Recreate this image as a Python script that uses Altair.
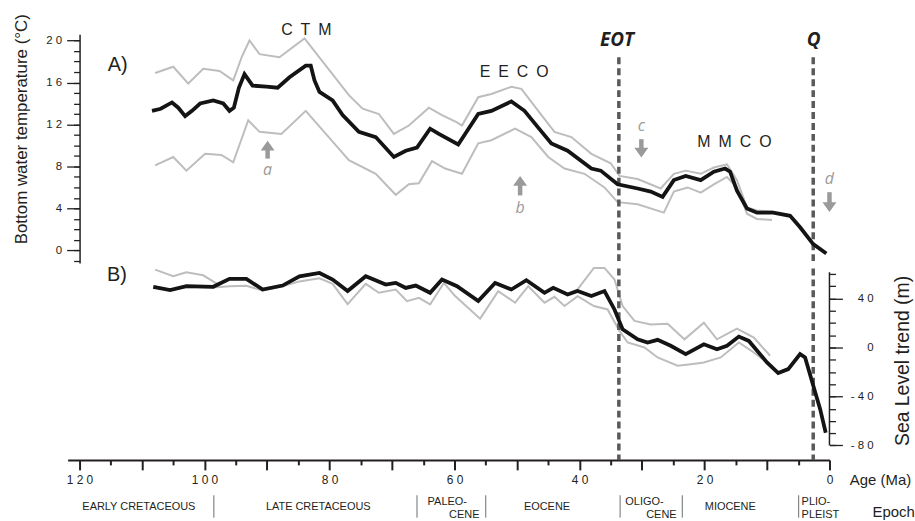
import altair as alt
import pandas as pd

# ---------------- data ----------------
# Panel A: bottom water temperature (deg C) vs age (Ma)
TEMP_AGE = [108.4, 107.0, 105.2, 104.2, 103.1, 102.0, 100.7, 98.6, 97.0, 96.0, 95.3, 94.5, 93.6, 92.3,
            90.1, 88.3, 86.4, 83.8, 83.0, 82.4, 81.6, 79.5, 77.9, 75.3, 72.6, 69.7, 67.8, 66.0, 63.9,
            62.5, 59.4, 56.2, 54.1, 50.9, 48.8, 46.6, 44.5, 41.9, 38.1, 36.6, 33.9, 30.7, 28.6, 26.7,
            24.9, 23.0, 20.6, 18.5, 16.7, 15.9, 14.8, 13.2, 11.6, 9.0, 6.3, 4.7, 2.6, 0.5]
TEMP_MID = [13.3, 13.5, 14.1, 13.6, 12.8, 13.3, 14.0, 14.3, 14.0, 13.3, 13.6, 15.5, 16.8, 15.7,
            15.6, 15.5, 16.5, 17.6, 17.6, 16.2, 15.1, 14.3, 12.9, 11.3, 10.8, 8.9, 9.5, 9.8, 11.6,
            11.1, 10.1, 13.0, 13.3, 14.2, 13.3, 11.7, 10.2, 9.5, 7.8, 7.6, 6.3, 5.9, 5.6, 5.1,
            6.7, 7.1, 6.7, 7.5, 7.8, 7.5, 5.7, 4.0, 3.6, 3.6, 3.3, 2.2, 0.6, -0.3]
TEMP_UP_AGE = [107.9, 105.0, 102.6, 100.2, 97.6, 95.4, 94.0, 92.8, 91.2, 88.0, 84.0, 76.9, 74.7, 72.1,
               69.7, 67.3, 64.1, 62.0, 59.6, 58.8, 56.2, 54.1, 50.9, 49.3, 46.6, 44.0, 41.3, 38.1,
               35.0, 33.6, 30.7, 27.0, 24.9, 23.0, 20.6, 18.5, 16.4, 14.8, 13.2, 11.6, 9.0]
TEMP_UP = [16.9, 17.5, 15.9, 17.3, 17.1, 16.2, 18.5, 20.0, 18.7, 18.4, 20.2, 14.8, 13.5, 13.0,
           11.1, 11.9, 13.6, 12.9, 12.2, 11.9, 14.6, 14.9, 15.6, 15.4, 13.3, 11.3, 10.8, 9.2,
           8.3, 7.1, 6.8, 5.9, 7.3, 7.6, 7.3, 7.9, 8.2, 6.7, 4.1, 3.8, 3.7]
TEMP_LO_AGE = [107.9, 105.0, 102.9, 99.9, 97.3, 95.4, 93.0, 91.2, 87.7, 83.8, 76.9, 72.6, 69.4, 67.3,
               65.7, 63.6, 61.5, 58.8, 56.2, 54.1, 50.3, 47.7, 45.0, 42.4, 39.2, 36.0, 33.9, 30.7,
               26.5, 24.9, 22.7, 20.6, 18.5, 16.4, 14.8, 13.2, 11.6, 9.2]
TEMP_LO = [8.1, 8.9, 7.6, 9.2, 9.1, 8.4, 12.4, 11.3, 11.1, 13.3, 8.6, 7.3, 5.3, 6.3,
           6.4, 8.5, 7.8, 7.3, 10.2, 10.5, 11.6, 10.8, 8.9, 7.8, 7.3, 6.0, 4.6, 4.4,
           3.6, 5.6, 6.0, 5.5, 6.3, 7.0, 6.0, 3.5, 3.0, 2.9]

# Panel B: sea level trend (m) vs age (Ma)
SL_AGE = [108.2, 105.5, 102.9, 98.6, 96.0, 93.3, 90.7, 87.5, 84.8, 81.6, 79.5, 77.1, 74.2, 71.0,
          69.4, 67.8, 66.2, 63.9, 62.0, 59.6, 56.2, 53.5, 50.9, 48.5, 45.6, 44.2, 41.9, 40.3,
          38.1, 36.0, 34.4, 33.1, 30.7, 29.1, 27.5, 25.4, 23.0, 20.1, 18.0, 16.4, 14.5, 12.9,
          10.0, 8.2, 6.6, 4.7, 3.9, 2.6, 1.5, 0.6]
SL_MID = [49.6, 46.9, 50.1, 49.6, 56.1, 56.1, 47.4, 50.6, 58.2, 60.9, 55.5, 46.1, 58.2, 51.4,
          52.8, 48.7, 50.6, 44.7, 55.5, 50.1, 37.9, 52.8, 47.4, 55.0, 44.7, 48.7, 43.3, 46.1,
          42.0, 46.1, 31.1, 14.9, 6.7, 4.1, 6.3, 1.4, -5.4, 2.7, -1.4, 1.4, 8.9, 5.4,
          -12.2, -20.9, -17.6, -5.4, -8.1, -31.1, -50.1, -69.6]
SL_UP_AGE = [107.9, 105.0, 102.9, 100.2, 98.0, 96.0, 93.3, 90.7, 87.5, 84.8, 81.6, 79.5, 77.1, 74.2,
             71.0, 69.4, 67.8, 66.2, 63.9, 62.0, 59.6, 56.2, 53.5, 50.9, 48.5, 45.6, 44.2, 41.9,
             40.3, 37.7, 36.0, 34.4, 33.1, 31.2, 28.6, 25.9, 23.2, 20.1, 18.0, 14.8, 12.1, 9.5]
SL_UP = [63.6, 58.2, 61.5, 59.0, 52.0, 56.1, 56.1, 48.0, 51.0, 58.5, 61.5, 56.0, 47.0, 58.5,
         52.0, 53.5, 49.5, 51.0, 45.5, 56.0, 51.0, 39.0, 53.5, 48.0, 55.5, 45.5, 49.5, 44.0,
         47.5, 65.0, 65.0, 55.5, 33.9, 21.7, 18.9, 19.5, 6.7, 20.3, 6.7, 15.4, 8.1, -6.7]
SL_LO_AGE = [108.0, 105.5, 102.9, 98.6, 96.0, 93.3, 90.7, 87.5, 84.8, 81.6, 79.5, 77.1, 74.2, 72.1,
             69.4, 67.6, 65.7, 63.9, 61.7, 59.9, 55.9, 53.0, 50.3, 48.2, 45.6, 44.0, 42.4, 40.3,
             37.7, 35.5, 33.6, 32.3, 29.6, 27.5, 24.3, 22.2, 20.1, 17.4, 14.5, 12.1, 10.0]
SL_LO = [50.0, 46.5, 49.5, 49.0, 50.0, 50.5, 46.5, 50.0, 54.0, 56.5, 52.0, 35.5, 52.0, 44.7,
         47.4, 37.9, 40.6, 35.2, 52.8, 42.0, 23.6, 46.1, 36.6, 50.1, 36.6, 41.4, 33.9, 42.0,
         33.9, 31.1, 13.6, 4.1, 0.0, -8.1, -14.9, -13.6, -12.2, -8.1, 4.1, -4.1, -12.2]

# events (dashed verticals)
EVENT_NAMES = ["EOT", "Q"]
EVENT_AGES = [33.7, 2.6]
EVENT_LABEL_AGES = [34.0, 2.55]

# climate annotations in panel A
CLIM_NAMES = ["C\u2002T\u2002M", "E\u2002E\u2002C\u2002O", "M\u2002M\u2002C\u2002O"]
CLIM_AGES = [83.7, 50.45, 15.2]
CLIM_TEMPS = [20.5, 16.55, 9.82]

# arrows (a, b up; c, d down)
ARROW_NAMES = ["a", "b", "c", "d"]
ARROW_AGES = [89.9, 49.5, 30.1, 0.0]
ARROW_DIR = ["up", "up", "down", "down"]
ARROW_HEAD = [9.98, 6.62, 9.32, 4.13]
ARROW_TAIL = [8.75, 5.24, 10.6, 5.55]
ARROW_LABEL = [7.23, 3.54, 11.4, 6.35]

# epochs
EPOCH_BOUNDS = [98.5, 66.0, 55.0, 33.5, 23.55, 4.93]
EPOCH_SINGLE = ["EARLY CRETACEOUS", "LATE CRETACEOUS", "EOCENE", "MIOCENE"]
EPOCH_SINGLE_AGES = [110.5, 81.8, 45.2, 15.87]
EPOCH_LINE1 = ["PALEO-", "OLIGO-", "PLIO-"]
EPOCH_LINE1_AGES = [64.3, 32.67, 4.46]
EPOCH_LINE2_R = ["CENE", "CENE"]
EPOCH_LINE2_R_AGES = [56.0, 24.46]
EPOCH_LINE2_L = ["PLEIST"]
EPOCH_LINE2_L_AGES = [4.46]

# axis ticks
X_MAJOR = list(range(0, 121, 10))
X_MINOR = list(range(5, 120, 10))
T_MAJOR = [0, 4, 8, 12, 16, 20]
T_MINOR = list(range(-1, 21))
S_MAJOR = [-80, -40, 0, 40]
S_MINOR = list(range(-80, 61, 10))

# ---------------- styling ----------------
FONT = "Liberation Sans"
TXT = "#231f20"
BLACK = "#141414"
GRAY = "#bdbdbd"
DASH = "#58595b"
ARROW = "#9a9a9a"
W = 766
SPACED = "join(split(toString(datum.value), ''), ' ')"

xscale = alt.Scale(domain=[0, 121.9], reverse=True, nice=False, zero=False)
tscale = alt.Scale(domain=[-1.2, 20.6], nice=False, zero=False)
sscale = alt.Scale(domain=[-91.8, 65.8], nice=False, zero=False)
escale = alt.Scale(domain=[0, 2], nice=False, zero=False)


def X(field="age", axis=None):
    return alt.X(f"{field}:Q", scale=xscale, axis=axis)


def df_xy(ages, vals):
    return pd.DataFrame({"age": ages, "v": vals})


# ---------------- Panel A ----------------
left_major = alt.Axis(orient="left", values=T_MAJOR, tickSize=13, tickWidth=1.3, tickColor=TXT,
                      domainColor=TXT, domainWidth=1.5, labelExpr=SPACED, labelFont=FONT,
                      labelFontSize=11.5, labelColor=TXT, labelPadding=5, offset=-12, grid=False,
                      title="Bottom water temperature (°C)", titleFont=FONT, titleFontSize=17,
                      titleFontWeight="normal", titleColor=TXT, titleAngle=270, titleX=-53,
                      titleY=95, titleAlign="center", titleBaseline="alphabetic")
left_minor = alt.Axis(orient="left", values=T_MINOR, tickSize=6, tickWidth=1.3, tickColor=TXT,
                      domain=False, labels=False, title=None, offset=-12, grid=False)

YT = lambda axis=None, f="v": alt.Y(f"{f}:Q", scale=tscale, axis=axis)

t_up = alt.Chart(df_xy(TEMP_UP_AGE, TEMP_UP)).mark_line(color=GRAY, strokeWidth=2).encode(
    x=X(), y=YT(left_minor))
t_lo = alt.Chart(df_xy(TEMP_LO_AGE, TEMP_LO)).mark_line(color=GRAY, strokeWidth=2).encode(
    x=X(), y=YT())
t_mid = alt.Chart(df_xy(TEMP_AGE, TEMP_MID)).mark_line(color=BLACK, strokeWidth=3.8).encode(
    x=X(), y=YT(left_major))

ev_top = pd.DataFrame({"age": EVENT_AGES, "y0": [18.4, 18.4], "y1": [-1.0, -1.0]})
t_dash = alt.Chart(ev_top).mark_rule(color=DASH, strokeWidth=3.5, strokeDash=[7, 4]).encode(
    x=X(), y=YT(f="y0"), y2="y1:Q")

ev_lab = pd.DataFrame({"age": EVENT_LABEL_AGES, "v": [19.46, 19.46], "name": EVENT_NAMES})
t_evlab = alt.Chart(ev_lab).mark_text(font="Open Sans", fontSize=19, fontStyle="italic",
                                      fontWeight="bold", color=TXT, align="center",
                                      baseline="alphabetic").encode(x=X(), y=YT(), text="name:N")

clim = pd.DataFrame({"age": CLIM_AGES, "v": CLIM_TEMPS, "name": CLIM_NAMES})
t_clim = alt.Chart(clim).mark_text(font=FONT, fontSize=16, color=TXT, align="center",
                                   baseline="alphabetic").encode(x=X(), y=YT(), text="name:N")

pa = pd.DataFrame({"age": [115.5], "v": [17.09], "name": ["A)"]})
t_pa = alt.Chart(pa).mark_text(font=FONT, fontSize=20, color=TXT, align="left",
                               baseline="alphabetic").encode(x=X(), y=YT(), text="name:N")

arrows = pd.DataFrame({"age": ARROW_AGES, "head": ARROW_HEAD, "tail": ARROW_TAIL,
                       "lab": ARROW_LABEL, "name": ARROW_NAMES, "dir": ARROW_DIR})
t_shaft = alt.Chart(arrows).mark_rule(color=ARROW, strokeWidth=4.5).encode(
    x=X(), y=YT(f="head"), y2="tail:Q")
t_head_up = alt.Chart(arrows[arrows["dir"] == "up"]).mark_point(
    shape="M-1,0.7L0,-0.7L1,0.7Z", filled=True, size=196, color=ARROW, opacity=1).encode(
    x=X(), y=YT(f="head"))
t_head_dn = alt.Chart(arrows[arrows["dir"] == "down"]).mark_point(
    shape="M-1,-0.7L0,0.7L1,-0.7Z", filled=True, size=196, color=ARROW, opacity=1).encode(
    x=X(), y=YT(f="head"))
t_alab = alt.Chart(arrows).mark_text(font="Open Sans", fontSize=16, fontStyle="italic",
                                     color=ARROW, align="center", baseline="alphabetic").encode(
    x=X(), y=YT(f="lab"), text="name:N")

top = alt.layer(t_up, t_lo, t_dash, t_mid, t_evlab, t_clim, t_pa, t_shaft, t_head_up, t_head_dn,
                t_alab).resolve_axis(y="independent").properties(width=W, height=230)

# ---------------- Panel B ----------------
right_major = alt.Axis(orient="right", values=S_MAJOR, tickSize=13, tickWidth=1.3, tickColor=TXT,
                       domain=False, labelExpr=SPACED, labelFont=FONT, labelFontSize=11.5,
                       labelColor=TXT, labelAlign="right", labelPadding=31, grid=False,
                       title="Sea Level trend (m)", titleFont=FONT, titleFontSize=19.5,
                       titleFontWeight="normal", titleColor=TXT, titleAngle=270, titleX=79,
                       titleY=94, titleAlign="center", titleBaseline="alphabetic")
right_minor = alt.Axis(orient="right", values=S_MINOR, tickSize=6, tickWidth=1.3, tickColor=TXT,
                       domain=False, labels=False, title=None, grid=False)
x_major = alt.Axis(orient="bottom", values=X_MAJOR, tickSize=10, tickWidth=2, tickColor=TXT,
                   domainColor=TXT, domainWidth=2,
                   labelExpr="datum.value % 20 == 0 ? " + SPACED + " : ''",
                   labelFont=FONT, labelFontSize=12, labelColor=TXT, labelPadding=5,
                   labelFlush=False, labelOverlap=False, grid=False,
                   title="Age (Ma)", titleFont=FONT, titleFontSize=15, titleFontWeight="normal",
                   titleColor=TXT, titleX=786, titleY=25, titleAlign="left",
                   titleBaseline="alphabetic", titleAngle=0)
x_minor = alt.Axis(orient="bottom", values=X_MINOR, tickSize=5, tickWidth=2, tickColor=TXT,
                   domain=False, labels=False, title=None, grid=False)

YS = lambda axis=None, f="v": alt.Y(f"{f}:Q", scale=sscale, axis=axis)

s_lo = alt.Chart(df_xy(SL_LO_AGE, SL_LO)).mark_line(color=GRAY, strokeWidth=2).encode(
    x=X(axis=x_minor), y=YS(right_minor))
s_up = alt.Chart(df_xy(SL_UP_AGE, SL_UP)).mark_line(color=GRAY, strokeWidth=2).encode(
    x=X(), y=YS())
s_mid = alt.Chart(df_xy(SL_AGE, SL_MID)).mark_line(color=BLACK, strokeWidth=3.8).encode(
    x=X(axis=x_major), y=YS(right_major))

ev_bot = pd.DataFrame({"age": EVENT_AGES, "y0": [64.6, 64.6], "y1": [-91.8, -91.8]})
s_dash = alt.Chart(ev_bot).mark_rule(color=DASH, strokeWidth=3.5, strokeDash=[7, 4]).encode(
    x=X(), y=YS(f="y0"), y2="y1:Q")

s_axisline = alt.Chart(pd.DataFrame({"age": [0.0], "y0": [-80.0], "y1": [61.5]})).mark_rule(
    color=TXT, strokeWidth=1.5).encode(x=X(), y=YS(f="y0"), y2="y1:Q")

pb = pd.DataFrame({"age": [115.6], "v": [54.2], "name": ["B)"]})
s_pb = alt.Chart(pb).mark_text(font=FONT, fontSize=20, color=TXT, align="left",
                               baseline="alphabetic").encode(x=X(), y=YS(), text="name:N")

bottom = alt.layer(s_lo, s_up, s_dash, s_mid, s_axisline, s_pb).resolve_axis(
    x="independent", y="independent").properties(width=W, height=194)

# ---------------- Epoch strip ----------------
YE = lambda f: alt.Y(f"{f}:Q", scale=escale, axis=None)

seps = pd.DataFrame({"age": EPOCH_BOUNDS, "y0": [1.88] * len(EPOCH_BOUNDS),
                     "y1": [0.15] * len(EPOCH_BOUNDS)})
e_sep = alt.Chart(seps).mark_rule(color="#6d6e71", strokeWidth=1).encode(
    x=X(), y=YE("y0"), y2="y1:Q")

single = pd.DataFrame({"age": EPOCH_SINGLE_AGES, "v": [0.73] * 4, "name": EPOCH_SINGLE})
e_single = alt.Chart(single).mark_text(font=FONT, fontSize=11, color=TXT, align="center",
                                       baseline="alphabetic").encode(x=X(), y=YE("v"), text="name:N")
l1 = pd.DataFrame({"age": EPOCH_LINE1_AGES, "v": [1.154] * 3, "name": EPOCH_LINE1})
e_l1 = alt.Chart(l1).mark_text(font=FONT, fontSize=11, color=TXT, align="left",
                               baseline="alphabetic").encode(x=X(), y=YE("v"), text="name:N")
l2r = pd.DataFrame({"age": EPOCH_LINE2_R_AGES, "v": [0.154] * 2, "name": EPOCH_LINE2_R})
e_l2r = alt.Chart(l2r).mark_text(font=FONT, fontSize=11, color=TXT, align="right",
                                 baseline="alphabetic").encode(x=X(), y=YE("v"), text="name:N")
l2l = pd.DataFrame({"age": EPOCH_LINE2_L_AGES, "v": [0.154], "name": EPOCH_LINE2_L})
e_l2l = alt.Chart(l2l).mark_text(font=FONT, fontSize=11, color=TXT, align="left",
                                 baseline="alphabetic").encode(x=X(), y=YE("v"), text="name:N")
ep = pd.DataFrame({"age": [-6.9], "v": [0.23], "name": ["Epoch"]})
e_ep = alt.Chart(ep).mark_text(font=FONT, fontSize=15, color=TXT, align="left",
                               baseline="alphabetic").encode(x=X(), y=YE("v"), text="name:N")

epoch = alt.layer(e_sep, e_single, e_l1, e_l2r, e_l2l, e_ep).properties(width=W, height=26)

chart = alt.vconcat(alt.vconcat(top, bottom, spacing=0), epoch, spacing=6).properties(
    padding={"left": 12, "top": 12, "right": 0, "bottom": 0},
    background="white",
).configure_view(stroke=None)

chart.save("out.html", embed_options={"renderer": "svg", "actions": False})
